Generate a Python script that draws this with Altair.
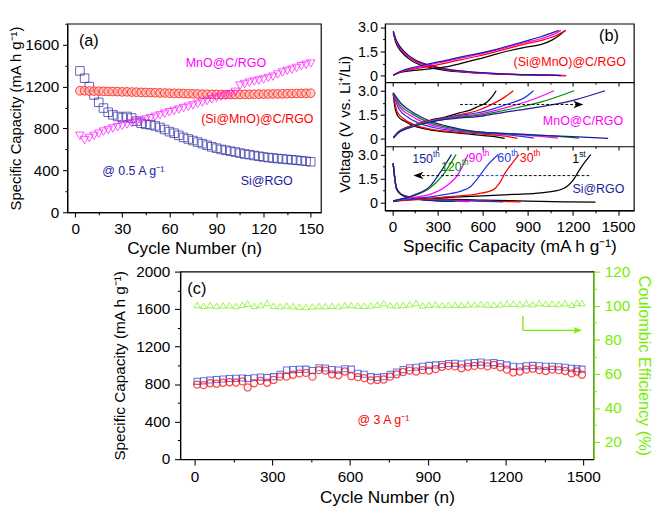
import altair as alt
import pandas as pd

FONT = "Liberation Sans"
GREEN = "#76ee00"
NAVY = "#1c1c9c"
COLORS = {"1st": "#000000", "30th": "#ff0000", "60th": "#1f3be0",
          "90th": "#ff00ff", "120th": "#008c00", "150th": NAVY}

# ---------------- panel (a) ----------------
cycles_a = list(range(3, 151, 3))
si_rgo_a = [1350, 1280, 1200, 1120, 1050, 995, 955, 930, 915, 905,
            915, 900, 870, 850, 840, 835, 825, 810, 790, 770,
            755, 735, 715, 700, 685, 670, 655, 640, 625, 612,
            600, 592, 583, 575, 565, 556, 550, 542, 535, 528,
            522, 518, 513, 509, 505, 501, 497, 492, 487, 482]
mno_a = [730, 690, 710, 730, 750, 770, 785, 800, 812, 825,
         838, 850, 862, 873, 885, 898, 912, 925, 940, 955,
         968, 980, 995, 1008, 1020, 1035, 1048, 1062, 1078, 1092,
         1105, 1115, 1128, 1150, 1210, 1225, 1238, 1248, 1258, 1268,
         1282, 1295, 1315, 1335, 1350, 1362, 1378, 1395, 1408, 1420]
simno_a = [1160, 1160, 1158, 1157, 1156, 1155, 1154, 1153, 1152, 1150,
           1150, 1148, 1147, 1145, 1144, 1143, 1142, 1140, 1139, 1137,
           1136, 1135, 1134, 1132, 1131, 1130, 1128, 1127, 1126, 1125,
           1125, 1124, 1124, 1125, 1125, 1126, 1126, 1127, 1128, 1128,
           1129, 1130, 1130, 1131, 1132, 1133, 1134, 1135, 1136, 1137]

# ---------------- panel (b) curves: (capacity, voltage) ----------------
top_dis_1st = [(5, 2.65), (20, 2.1), (57, 1.5), (100, 1.1), (150, 0.8), (250, 0.5), (350, 0.33), (500, 0.2), (700, 0.1), (900, 0.05), (1100, 0.02), (1150, 0.0)]
top_dis_30th = [(5, 2.7), (20, 2.2), (57, 1.62), (100, 1.2), (150, 0.9), (250, 0.58), (350, 0.38), (500, 0.22), (700, 0.11), (900, 0.06), (1100, 0.02), (1155, 0.0)]
top_dis_90th = [(5, 2.72), (20, 2.25), (57, 1.68), (100, 1.26), (150, 0.95), (250, 0.62), (350, 0.4), (500, 0.24), (700, 0.12), (900, 0.06), (1090, 0.02), (1135, 0.0)]
top_dis_150th = [(5, 2.75), (20, 2.3), (57, 1.72), (100, 1.3), (150, 0.98), (250, 0.64), (350, 0.42), (500, 0.25), (700, 0.12), (900, 0.06), (1080, 0.02), (1120, 0.0)]
top_ch_1st = [(5, 0.03), (50, 0.2), (142, 0.32), (250, 0.42), (354, 0.54), (450, 0.75), (566, 1.02), (676, 1.3), (776, 1.54), (880, 1.75), (990, 1.94), (1060, 2.2), (1110, 2.5), (1150, 2.8)]
top_ch_30th = [(5, 0.03), (50, 0.22), (142, 0.4), (250, 0.58), (354, 0.78), (450, 0.98), (566, 1.2), (676, 1.45), (776, 1.7), (880, 1.95), (990, 2.18), (1080, 2.45), (1150, 2.8)]
top_ch_90th = [(5, 0.03), (50, 0.24), (142, 0.45), (250, 0.68), (354, 0.88), (450, 1.08), (566, 1.3), (676, 1.55), (776, 1.8), (880, 2.05), (990, 2.3), (1070, 2.55), (1120, 2.8)]
top_ch_150th = [(5, 0.03), (50, 0.26), (142, 0.52), (250, 0.75), (354, 0.95), (450, 1.15), (566, 1.36), (676, 1.6), (776, 1.85), (880, 2.12), (990, 2.42), (1060, 2.65), (1105, 2.8)]

mid_dis_1st = [(4, 2.8), (15, 2.0), (36, 1.4), (78, 1.1), (142, 0.8), (248, 0.55), (354, 0.42), (500, 0.3), (650, 0.15), (746, 0.02)]
mid_dis_30th = [(4, 2.8), (30, 1.7), (80, 1.2), (150, 0.85), (250, 0.6), (400, 0.42), (600, 0.28), (750, 0.15), (830, 0.02)]
mid_dis_60th = [(4, 2.82), (40, 1.9), (100, 1.35), (180, 0.95), (280, 0.68), (420, 0.48), (620, 0.33), (800, 0.2), (940, 0.03)]
mid_dis_90th = [(4, 2.84), (45, 2.0), (120, 1.45), (210, 1.0), (320, 0.7), (480, 0.48), (700, 0.33), (900, 0.2), (1100, 0.03)]
mid_dis_120th = [(4, 2.86), (50, 2.1), (130, 1.55), (230, 1.05), (340, 0.75), (520, 0.45), (750, 0.32), (1000, 0.2), (1240, 0.03)]
mid_dis_150th = [(4, 2.88), (57, 2.2), (142, 1.6), (248, 1.1), (354, 0.8), (566, 0.42), (800, 0.3), (990, 0.2), (1200, 0.12), (1434, 0.02)]
mid_ch_1st = [(5, 0.05), (36, 0.4), (142, 0.85), (248, 1.15), (350, 1.35), (439, 1.6), (520, 1.8), (566, 2.0), (629, 2.3), (660, 2.6), (689, 3.0)]
mid_ch_30th = [(5, 0.05), (36, 0.4), (142, 0.85), (248, 1.12), (350, 1.3), (450, 1.5), (566, 1.76), (650, 2.1), (746, 2.6), (803, 3.0)]
mid_ch_60th = [(5, 0.05), (36, 0.38), (142, 0.82), (248, 1.1), (350, 1.28), (450, 1.45), (566, 1.62), (680, 1.9), (778, 2.2), (884, 2.6), (937, 3.0)]
mid_ch_90th = [(5, 0.05), (36, 0.36), (142, 0.8), (248, 1.08), (350, 1.25), (450, 1.4), (566, 1.52), (680, 1.75), (778, 2.0), (947, 2.5), (1074, 3.0)]
mid_ch_120th = [(5, 0.05), (36, 0.35), (142, 0.78), (248, 1.05), (350, 1.22), (450, 1.35), (566, 1.45), (680, 1.65), (778, 1.84), (990, 2.3), (1208, 3.0)]
mid_ch_150th = [(5, 0.05), (36, 0.34), (142, 0.76), (248, 1.02), (350, 1.2), (450, 1.3), (566, 1.38), (680, 1.55), (778, 1.7), (990, 2.0), (1201, 2.4), (1413, 3.0)]

bot_dis_1st = [(4, 2.45), (15, 1.5), (25, 0.9), (57, 0.5), (142, 0.3), (354, 0.2), (600, 0.14), (900, 0.08), (1150, 0.04), (1350, 0.01)]
bot_dis_30th = [(4, 2.45), (15, 1.5), (25, 0.9), (57, 0.5), (142, 0.28), (354, 0.16), (600, 0.1), (852, 0.03)]
bot_dis_60th = [(4, 2.45), (15, 1.5), (25, 0.9), (57, 0.5), (142, 0.27), (354, 0.14), (550, 0.08), (735, 0.04)]
bot_dis_90th = [(4, 2.45), (15, 1.5), (25, 0.9), (57, 0.5), (142, 0.25), (300, 0.12), (513, 0.05)]
bot_dis_120th = [(4, 2.45), (15, 1.5), (25, 0.9), (57, 0.5), (142, 0.24), (300, 0.11), (428, 0.06)]
bot_dis_150th = [(4, 2.45), (15, 1.5), (25, 0.9), (57, 0.5), (142, 0.22), (280, 0.1), (407, 0.07)]
bot_ch_1st = [(5, 0.05), (142, 0.2), (354, 0.3), (566, 0.4), (800, 0.5), (990, 0.6), (1100, 0.75), (1160, 1.0), (1201, 1.4), (1254, 2.2), (1318, 3.0)]
bot_ch_30th = [(5, 0.1), (142, 0.16), (354, 0.35), (566, 0.54), (672, 0.8), (714, 1.25), (746, 1.8), (799, 2.5), (841, 3.0)]
bot_ch_60th = [(5, 0.1), (142, 0.22), (354, 0.5), (460, 0.72), (520, 1.0), (566, 1.5), (629, 2.3), (703, 3.0)]
bot_ch_90th = [(5, 0.1), (142, 0.32), (248, 0.5), (354, 1.0), (439, 1.8), (502, 3.0)]
bot_ch_120th = [(5, 0.1), (142, 0.42), (248, 0.9), (333, 1.7), (422, 3.0)]
bot_ch_150th = [(5, 0.1), (142, 0.46), (248, 1.0), (311, 1.8), (392, 3.0)]

# cycle-label annotations of the Si@RGO panel: (number, suffix, capacity, voltage)
bot_labels = [("150", "th", 269, 2.7), ("120", "th", 460, 2.2), ("90", "th", 598, 2.8),
              ("60", "th", 789, 2.8), ("30", "th", 938, 2.8), ("1", "st", 1241, 2.7)]
bot_label_keys = ["150th", "120th", "90th", "60th", "30th", "1st"]

# ---------------- panel (c) ----------------
cycles_c = [10, 35, 60, 85, 110, 135, 160, 185, 205, 230, 255, 280, 305, 330, 355,
            380, 405, 430, 455, 480, 505, 530, 555, 580, 605, 630, 655, 680, 705, 730,
            755, 780, 805, 830, 855, 880, 905, 930, 955, 980, 1005, 1030, 1055, 1080, 1105,
            1130, 1155, 1180, 1205, 1230, 1255, 1280, 1305, 1330, 1355, 1380, 1405, 1430, 1455, 1475,
            1495]
discharge_c = [795, 790, 810, 805, 815, 820, 818, 830, 765, 810, 835, 815, 845, 880, 880,
               900, 915, 920, 880, 950, 945, 905, 895, 935, 885, 875, 865, 840, 845, 850,
               880, 905, 930, 945, 935, 950, 945, 960, 985, 995, 990, 970, 985, 995, 1000,
               990, 1005, 980, 955, 925, 935, 955, 965, 950, 940, 955, 950, 940, 915, 935,
               900]
charge_c = [830, 835, 845, 850, 855, 860, 862, 865, 860, 868, 875, 870, 880, 905, 950,
            955, 958, 960, 945, 975, 972, 955, 950, 965, 960, 915, 905, 880, 872, 880,
            905, 930, 955, 975, 980, 990, 1000, 1005, 1010, 1020, 1022, 1015, 1025, 1030, 1035,
            1025, 1030, 1020, 1005, 990, 985, 995, 1000, 995, 990, 990, 985, 980, 970, 965,
            960]
ce_c = [100.5, 100.0, 100.4, 99.9, 100.2, 100.3, 99.8, 100.6, 101.2, 99.9, 100.5, 101.6, 100.0, 99.7, 100.2,
        99.8, 99.5, 99.3, 99.6, 99.9, 99.8, 100.0, 99.7, 100.3, 100.5, 100.1, 100.0, 100.2, 100.6, 101.5,
        100.4, 100.2, 100.5, 100.8, 101.6, 100.2, 100.6, 100.9, 100.4, 100.6, 100.7, 100.5, 100.8, 100.9, 101.0,
        100.7, 100.6, 100.9, 101.3, 101.2, 101.0, 101.4, 100.9, 101.6, 101.2, 101.3, 101.0, 101.5, 100.6, 101.7,
        101.5]

ONE = pd.DataFrame({"k": [0]})
ARROW_R = "M 1 0 L -1 -0.75 L -0.45 0 L -1 0.75 Z"
ARROW_L = "M -1 0 L 1 -0.75 L 0.45 0 L 1 0.75 Z"
INT_FMT = "format(datum.value, 'd')"
V_FMT = "(datum.value == 0 ? '0' : format(datum.value, '.1f'))"


def axis(values, fmt, major, title=None, labels=True, color="black", tick=5, minor=2.5,
         label_pad=4, title_pad=4, **extra):
    test = f"datum.value % {major} === 0"
    kw = dict(values=values, labelPadding=label_pad, titlePadding=title_pad,
              domainColor=color, tickColor=color, labelColor=color,
              titleColor=color, grid=False, title=title,
              tickSize={"condition": {"test": test, "value": tick}, "value": minor})
    if labels:
        kw["labelExpr"] = f"({test}) ? {fmt} : ''"
    else:
        kw["labels"] = False
    kw.update(extra)
    return alt.Axis(**kw)


def text(x, y, s, color, xs, ys, size=13, align="center", dy=0):
    return alt.Chart(ONE).mark_text(
        text=s, color=color, fontSize=size, font=FONT, align=align,
        baseline="middle", dy=dy).encode(
        x=alt.XDatum(x, scale=xs, axis=None), y=alt.YDatum(y, scale=ys, axis=None))


def hrule(x1, x2, y, color, xs, ys, dash=None, width=1.0):
    kw = dict(color=color, strokeWidth=width)
    if dash:
        kw["strokeDash"] = dash
    return alt.Chart(ONE).mark_rule(**kw).encode(
        x=alt.XDatum(x1, scale=xs, axis=None), x2=alt.X2Datum(x2),
        y=alt.YDatum(y, scale=ys, axis=None))


def vrule(x, y1, y2, color, xs, ys, width=1.0):
    return alt.Chart(ONE).mark_rule(color=color, strokeWidth=width).encode(
        x=alt.XDatum(x, scale=xs, axis=None),
        y=alt.YDatum(y1, scale=ys, axis=None), y2=alt.Y2Datum(y2))


def head(x, y, shape, color, xs, ys, size=110):
    return alt.Chart(ONE).mark_point(shape=shape, filled=True, size=size, color=color,
                                     opacity=1, strokeWidth=0).encode(
        x=alt.XDatum(x, scale=xs, axis=None), y=alt.YDatum(y, scale=ys, axis=None))


# ======== panel (a) ========
df_a = pd.DataFrame({"cycle": cycles_a, "si": si_rgo_a, "mno": mno_a, "simno": simno_a})
xs_a = alt.Scale(domain=[-5, 156.5], nice=False, zero=False)
ys_a = alt.Scale(domain=[0, 1800], nice=False, zero=False)
ax_ax = axis(list(range(0, 151, 15)), INT_FMT, 30, title="Cycle Number (n)",
             title_pad=4, titleFontSize=18, orient="bottom")
ax_ay = axis(list(range(0, 1801, 200)), INT_FMT, 400, title="Specific Capacity (mA h g⁻¹)",
             label_pad=4, title_pad=1, titleFontSize=15.5, orient="left")

pa_si = alt.Chart(df_a).mark_point(shape="square", size=80, color=NAVY, strokeWidth=1,
                                   filled=False).encode(
    x=alt.X("cycle:Q", scale=xs_a, axis=ax_ax), y=alt.Y("si:Q", scale=ys_a, axis=ax_ay))
pa_simno = alt.Chart(df_a).mark_point(shape="circle", size=80, stroke="#ff2a2a", fill="#ffb0a0",
                                      fillOpacity=0.55, strokeWidth=1).encode(
    x=alt.X("cycle:Q", scale=xs_a, axis=None), y=alt.Y("simno:Q", scale=ys_a, axis=None))
pa_mno = alt.Chart(df_a).mark_point(shape="triangle-down", size=80, color="#ff00ff", strokeWidth=1,
                                    filled=False).encode(
    x=alt.X("cycle:Q", scale=xs_a, axis=None), y=alt.Y("mno:Q", scale=ys_a, axis=None))

panel_a = alt.layer(
    pa_si, pa_simno, pa_mno,
    text(8.7, 1630, "(a)", "black", xs_a, ys_a, size=17),
    text(96, 1426, "MnO@C/RGO", "#ff00ff", xs_a, ys_a),
    text(116, 886, "(Si@MnO)@C/RGO", "#ff0000", xs_a, ys_a),
    text(37, 393, "@ 0.5 A g⁻¹", NAVY, xs_a, ys_a),
    text(122, 293, "Si@RGO", NAVY, xs_a, ys_a),
).resolve_scale(x="independent", y="independent").properties(width=265, height=197)

# ======== panel (b): one plot, three stacked voltage scales ========
curves = {
    "top": [("dis", "1st", top_dis_1st), ("dis", "30th", top_dis_30th), ("dis", "90th", top_dis_90th),
            ("dis", "150th", top_dis_150th), ("ch", "1st", top_ch_1st), ("ch", "30th", top_ch_30th),
            ("ch", "90th", top_ch_90th), ("ch", "150th", top_ch_150th)],
    "mid": [("dis", "1st", mid_dis_1st), ("dis", "30th", mid_dis_30th), ("dis", "60th", mid_dis_60th),
            ("dis", "90th", mid_dis_90th), ("dis", "120th", mid_dis_120th), ("dis", "150th", mid_dis_150th),
            ("ch", "1st", mid_ch_1st), ("ch", "30th", mid_ch_30th), ("ch", "60th", mid_ch_60th),
            ("ch", "90th", mid_ch_90th), ("ch", "120th", mid_ch_120th), ("ch", "150th", mid_ch_150th)],
    "bot": [("dis", "1st", bot_dis_1st), ("dis", "30th", bot_dis_30th), ("dis", "60th", bot_dis_60th),
            ("dis", "90th", bot_dis_90th), ("dis", "120th", bot_dis_120th), ("dis", "150th", bot_dis_150th),
            ("ch", "1st", bot_ch_1st), ("ch", "30th", bot_ch_30th), ("ch", "60th", bot_ch_60th),
            ("ch", "90th", bot_ch_90th), ("ch", "120th", bot_ch_120th), ("ch", "150th", bot_ch_150th)],
}
B_H = 195
xs_b = alt.Scale(domain=[-50, 1605], nice=False, zero=False)
ys_top = alt.Scale(domain=[-0.4, 3.21], nice=False, zero=False, range=[61, 0])
ys_mid = alt.Scale(domain=[-0.48, 3.54], nice=False, zero=False, range=[128, 61])
ys_bot = alt.Scale(domain=[-0.5, 3.52], nice=False, zero=False, range=[195, 128])
color_b = alt.Color("cyc:N", scale=alt.Scale(domain=list(COLORS.keys()), range=list(COLORS.values())),
                    legend=None)
bx_vals = list(range(0, 1501, 150))
by_vals = [0, 0.75, 1.5, 2.25, 3.0]


def b_lines(key, ys, xaxis, yaxis):
    rows = []
    for n, (kind, cyc, pts) in enumerate(curves[key]):
        for i, (c, v) in enumerate(pts):
            rows.append({"curve": f"{n}-{kind}-{cyc}", "cyc": cyc, "i": i, "cap": c, "v": v})
    df = pd.DataFrame(rows)
    return alt.Chart(df).mark_line(strokeWidth=1.3, interpolate="monotone").encode(
        x=alt.X("cap:Q", scale=xs_b, axis=xaxis), y=alt.Y("v:Q", scale=ys, axis=yaxis),
        color=color_b, detail="curve:N", order="i:Q")


def separator(offset, ys):
    ax = axis(bx_vals, INT_FMT, 300, labels=False, tick=4, minor=2, orient="bottom",
              offset=offset, domainWidth=1.2)
    return alt.Chart(ONE).mark_point(opacity=0).encode(
        x=alt.XDatum(0, scale=xs_b, axis=ax), y=alt.YDatum(0, scale=ys, axis=None))


def b_yaxis(**kw):
    return axis(by_vals, V_FMT, 1.5, label_pad=3, orient="left", labelFontSize=15, **kw)


bx_lab = axis(bx_vals, INT_FMT, 300, title="Specific Capacity (mA h g⁻¹)", title_pad=4,
              titleFontSize=18, orient="bottom")
b_layers = [
    b_lines("top", ys_top, None, b_yaxis()),
    b_lines("mid", ys_mid, None, b_yaxis(title="Voltage (V vs. Li⁺/Li)", title_pad=5,
                                         titleFontSize=16, titleY=104.5)),
    b_lines("bot", ys_bot, bx_lab, b_yaxis()),
    separator(-(B_H - 61), ys_top),
    separator(-(B_H - 128), ys_mid),
    text(1178, 0.85, "(Si@MnO)@C/RGO", "#ff0000", xs_b, ys_top),
    text(1439, 2.44, "(b)", "black", xs_b, ys_top, size=17),
    hrule(449, 1220, 2.14, "black", xs_b, ys_mid, dash=[3, 2]),
    head(1236, 2.14, ARROW_R, "black", xs_b, ys_mid),
    text(1267, 1.1, "MnO@C/RGO", "#ff00ff", xs_b, ys_mid),
    hrule(195, 430, 1.68, "black", xs_b, ys_bot, dash=[3, 2]),
    hrule(430, 780, 1.68, "#1f3be0", xs_b, ys_bot, dash=[3, 2]),
    hrule(780, 1322, 1.68, "black", xs_b, ys_bot, dash=[3, 2]),
    head(172, 1.68, ARROW_L, "black", xs_b, ys_bot),
    text(1369, 0.8, "Si@RGO", NAVY, xs_b, ys_bot),
]
for (num, suf, cx, vy), k in zip(bot_labels, bot_label_keys):
    b_layers.append(text(cx, vy, num, COLORS[k], xs_b, ys_bot, size=13, align="right"))
    b_layers.append(text(cx, vy, suf, COLORS[k], xs_b, ys_bot, size=8.5, align="left", dy=-5))
panel_b = alt.layer(*b_layers).resolve_scale(x="independent", y="independent").properties(
    width=260, height=B_H)

# ======== panel (c) ========
df_c = pd.DataFrame({"cycle": cycles_c, "ch": charge_c, "dis": discharge_c, "ce": ce_c})
xs_c = alt.Scale(domain=[-55, 1540], nice=False, zero=False)
ys_c = alt.Scale(domain=[0, 2000], nice=False, zero=False)
ys_ce = alt.Scale(domain=[10, 120], nice=False, zero=False)

cx_ax = axis(bx_vals, INT_FMT, 300, title="Cycle Number (n)", tick=6, minor=3, label_pad=4,
             title_pad=5, titleFontSize=18, orient="bottom")
cy_ax = axis(list(range(0, 2001, 200)), INT_FMT, 400, title="Specific Capacity (mA h g⁻¹)",
             tick=6, minor=3, label_pad=5, title_pad=9, titleFontSize=16, orient="left")
ce_ax = axis(list(range(20, 121, 10)), INT_FMT, 20, title="Coulombic Efficiency (%)", color=GREEN,
             tick=6, minor=3, label_pad=5, title_pad=5, titleFontSize=17, orient="right",
             domainWidth=1.3)

c_ch = alt.Chart(df_c).mark_point(shape="square", size=40, color="#2a3cd0", strokeWidth=1.1,
                                  filled=False).encode(
    x=alt.X("cycle:Q", scale=xs_c, axis=cx_ax), y=alt.Y("ch:Q", scale=ys_c, axis=cy_ax))
c_dis = alt.Chart(df_c).mark_point(shape="circle", size=55, color="#ff0000", strokeWidth=1.3,
                                   filled=False).encode(
    x=alt.X("cycle:Q", scale=xs_c, axis=None), y=alt.Y("dis:Q", scale=ys_c, axis=None))
c_ce = alt.Chart(df_c).mark_point(shape="triangle-up", size=45, color=GREEN, strokeWidth=1,
                                  filled=False).encode(
    x=alt.X("cycle:Q", scale=xs_c, axis=None), y=alt.Y("ce:Q", scale=ys_ce, axis=ce_ax))
panel_c = alt.layer(
    c_ch, c_dis, c_ce,
    text(9, 1816, "(c)", "black", xs_c, ys_c, size=17),
    text(729, 411, "@ 3 A g⁻¹", "#ff0000", xs_c, ys_c),
    vrule(1267, 1527, 1374, GREEN, xs_c, ys_c, width=1.3),
    hrule(1267, 1475, 1374, GREEN, xs_c, ys_c, width=1.3),
    head(1478, 1374, ARROW_R, GREEN, xs_c, ys_c, size=90),
).resolve_scale(x="independent", y="independent").properties(width=432, height=196)

spacer = alt.Chart(ONE).mark_point(opacity=0).encode(
    x=alt.X("k:Q", axis=None), y=alt.Y("k:Q", axis=None)
).properties(width=1, height=196, view=alt.ViewBackground(strokeOpacity=0))

top_row = alt.hconcat(panel_a, panel_b, spacing=12)
bottom_row = alt.hconcat(spacer, panel_c, spacing=41)

chart = alt.vconcat(top_row, bottom_row, spacing=5).properties(
    padding={"left": 0, "top": 0, "right": 0, "bottom": 0}, background="white"
).configure_view(stroke="black", strokeWidth=1.2).configure_axis(
    labelFont=FONT, titleFont=FONT, labelFontSize=16, titleFontWeight="normal",
    domainWidth=1.2, tickWidth=1.1
).configure_text(font=FONT)

chart.save("out.html", embed_options={"renderer": "svg", "actions": False})
